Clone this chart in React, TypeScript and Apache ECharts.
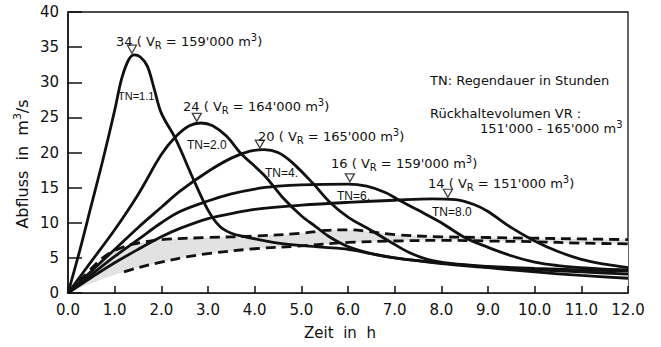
import React, { useEffect, useRef } from 'react';
import * as echarts from 'echarts';

// Hydrographs (t in h, Q in m3/s)
const tn11: number[][] = [[0,0],[0.25,6],[0.5,12.5],[0.75,19],[1.0,26],[1.15,30.5],[1.3,33.2],[1.42,33.9],[1.55,33.6],[1.7,32.3],[1.85,29],[2.0,25.6],[2.3,22],[2.7,16],[3.0,11.8],[3.25,9.5],[3.5,8.5],[3.8,8.0],[4.5,7.1],[5.5,6.5],[6.0,6.2],[6.5,5.6],[7.0,5.0],[8.0,4.2],[9.0,3.6],[10,3.0],[11,2.5],[12,2.1]];
const tn20: number[][] = [[0,0],[0.5,4.5],[1.0,9],[1.5,14],[2.0,19.7],[2.3,22.2],[2.6,23.8],[2.85,24.2],[3.1,23.8],[3.4,22.3],[3.7,19.9],[4.2,16.8],[4.6,13.6],[5.0,11.0],[5.3,9.5],[5.6,8.0],[6.0,6.6],[6.5,5.6],[7.0,5.0],[7.8,4.4],[9.0,3.7],[10,3.3],[11,3.0],[12,2.7]];
const tn40: number[][] = [[0,0],[0.5,3.1],[1.0,6.2],[1.5,9.3],[2.0,12.2],[2.4,14.5],[3.0,17.3],[3.5,19.2],[3.9,20.2],[4.2,20.4],[4.5,20.0],[4.8,18.6],[5.25,15.6],[5.6,13.0],[6.0,10.8],[6.5,8.9],[6.9,7.3],[7.3,5.8],[7.7,4.8],[8.2,4.2],[9.0,3.8],[10,3.5],[11,3.3],[12,3.1]];
const tn60: number[][] = [[0,0],[0.5,2.6],[1.0,5.2],[1.5,7.6],[2.0,10],[2.4,11.6],[3.0,13.1],[3.5,14.1],[4.0,14.8],[4.5,15.2],[5.0,15.4],[6.0,15.5],[6.4,15.2],[6.8,14.3],[7.1,13.2],[7.5,11.8],[8.0,10],[8.5,7.9],[9.0,6.5],[9.5,5.3],[10,4.4],[10.5,3.9],[11,3.6],[11.5,3.4],[12,3.3]];
const tn80: number[][] = [[0,0],[0.5,2.2],[1.0,4.3],[1.5,6.2],[2.0,8],[2.4,9.2],[3.0,10.6],[3.5,11.3],[4.0,11.9],[5.0,12.5],[6.0,12.9],[7.0,13.2],[7.8,13.4],[8.3,13.3],[8.7,12.6],[9.0,11.6],[9.5,9.3],[10,7.4],[10.5,5.9],[11,4.8],[11.5,4.1],[12,3.6]];

// Dashed envelope lines
const dashUpper: number[][] = [[0,0],[0.2,1.4],[0.4,2.8],[0.8,5.3],[1.2,6.6],[1.5,7.1],[2.0,7.6],[3.0,7.9],[4.0,8.1],[5.0,8.5],[5.5,8.9],[6.0,9.0],[6.4,8.8],[7.0,8.3],[8.0,8.0],[9.0,7.9],[10,7.8],[11,7.7],[12,7.6]];
const dashLower: number[][] = [[1.2,3.0],[1.5,3.6],[2.0,4.4],[2.5,5.1],[3.0,5.6],[4.0,6.3],[5.0,6.7],[6.0,7.2],[7.0,7.4],[8.0,7.5],[9,7.4],[10,7.3],[11,7.1],[12,7.0]];
const shadeLowerStart: number[][] = [[0,0],[0.5,1.4],[1.0,2.6]];

// Peak markers
const peakMarkers: number[][] = [[1.37,34.7],[2.76,25.0],[4.11,21.2],[6.04,16.4],[8.14,14.2]];
const peakValues: string[] = ['34', '24', '20', '16', '14'];
const peakVolumes: string[] = ["159'000", "164'000", "165'000", "159'000", "151'000"];
const tnLabels: string[] = ['TN=1.1', 'TN=2.0', 'TN=4.', 'TN=6.', 'TN=8.0'];

const FONT = 'DejaVu Sans';
const FONT_TN = 'Liberation Sans';

export default function App() {
  const ref = useRef<HTMLDivElement>(null);
  useEffect(() => {
    const chart = echarts.init(ref.current!, null, { renderer: 'svg' });
    const solid = (name: string, data: number[][]) => ({
      type: 'line', name, data, smooth: 0.35, showSymbol: false, z: 5,
      lineStyle: { color: '#111', width: 2.8 },
    });
    const rich = {
      n: { fontSize: 13, fontFamily: FONT, fill: '#111', lineHeight: 18 },
      s: { fontSize: 10, fontFamily: FONT, fill: '#111', lineHeight: 10, verticalAlign: 'bottom' },
      p: { fontSize: 10, fontFamily: FONT, fill: '#111', lineHeight: 10, verticalAlign: 'top' },
    };
    const peakPos = [[116, 41], [183, 106], [258, 136], [331, 163], [428, 183]];
    const tnPos = [[118, 96], [187, 145], [265, 173], [337, 196], [432, 212]];
    const tnSize = [11, 12, 12, 12, 12];
    const graphics: any[] = [];
    peakPos.forEach((p, i) => {
      graphics.push({
        type: 'text', x: p[0], y: p[1], z: 20,
        style: { text: `{n|${peakValues[i]} ( V}{s|R}{n| = ${peakVolumes[i]} m}{p|3}{n|)}`, rich, verticalAlign: 'middle', textAlign: 'left' },
      });
    });
    tnPos.forEach((p, i) => {
      graphics.push({
        type: 'text', x: p[0], y: p[1], z: 20,
        style: { text: tnLabels[i], fontSize: tnSize[i], fontFamily: FONT_TN, fill: '#111', verticalAlign: 'middle', textAlign: 'left' },
      });
    });
    graphics.push(
      { type: 'text', x: 430, y: 80, z: 20, style: { text: 'TN: Regendauer in Stunden', fontSize: 13, fontFamily: FONT, fill: '#111', verticalAlign: 'middle' } },
      { type: 'text', x: 430, y: 113, z: 20, style: { text: 'Rückhaltevolumen VR :', fontSize: 13, fontFamily: FONT, fill: '#111', verticalAlign: 'middle' } },
      { type: 'text', x: 480, y: 128, z: 20, style: { text: "{n|151'000 - 165'000 m}{p|3}", rich, verticalAlign: 'middle' } },
      { type: 'text', x: 340, y: 333, z: 20, style: { text: 'Zeit  in  h', fontSize: 15, fontFamily: FONT, fill: '#111', textAlign: 'center', verticalAlign: 'middle' } },
      {
        type: 'text', x: 22, y: 164, rotation: Math.PI / 2, z: 20,
        style: {
          text: '{a|Abfluss  in  m}{b|3}{a|/s}', textAlign: 'center', verticalAlign: 'middle',
          rich: {
            a: { fontSize: 16, fontFamily: FONT, fill: '#111', lineHeight: 20 },
            b: { fontSize: 11, fontFamily: FONT, fill: '#111', lineHeight: 11, verticalAlign: 'top' },
          },
        },
      },
    );

    chart.setOption({
      animation: false,
      backgroundColor: '#fff',
      grid: { left: 68, right: 33, top: 12, bottom: 54, show: true, borderColor: '#111', borderWidth: 1.3, backgroundColor: 'transparent' },
      xAxis: {
        type: 'value', min: 0, max: 12, interval: 1, z: 10,
        axisLine: { show: true, lineStyle: { color: '#111', width: 1.5 } },
        axisTick: { show: true, inside: true, length: 7, lineStyle: { color: '#111', width: 1.5 } },
        splitLine: { show: false },
        axisLabel: { color: '#111', fontSize: 15, fontFamily: FONT, margin: 9, formatter: (v: number) => v.toFixed(1) },
      },
      yAxis: {
        type: 'value', min: 0, max: 40, interval: 5, z: 10,
        axisLine: { show: true, lineStyle: { color: '#111', width: 1.5 } },
        axisTick: { show: true, inside: true, length: 14, lineStyle: { color: '#111', width: 1.5 } },
        splitLine: { show: false },
        axisLabel: { color: '#111', fontSize: 15, fontFamily: FONT, margin: 9 },
      },
      graphic: graphics,
      series: [
        { type: 'line', data: dashUpper, smooth: 0.35, showSymbol: false, z: 1, lineStyle: { width: 0 }, areaStyle: { color: '#e2e2e2', opacity: 1 }, silent: true },
        { type: 'line', data: [...shadeLowerStart, ...dashLower], smooth: 0.35, showSymbol: false, z: 2, lineStyle: { width: 0 }, areaStyle: { color: '#ffffff', opacity: 1 }, silent: true },
        { type: 'line', data: dashUpper, smooth: 0.35, showSymbol: false, z: 3, lineStyle: { color: '#111', width: 2.8, type: [10, 6] } },
        { type: 'line', data: dashLower, smooth: 0.35, showSymbol: false, z: 3, lineStyle: { color: '#111', width: 2.8, type: [10, 6] } },
        solid('TN=1.1', tn11),
        solid('TN=2.0', tn20),
        solid('TN=4', tn40),
        solid('TN=6', tn60),
        solid('TN=8.0', tn80),
        {
          type: 'scatter', data: peakMarkers, symbol: 'triangle', symbolRotate: 180, symbolSize: [9, 8], z: 8,
          itemStyle: { color: '#fff', borderColor: '#111', borderWidth: 1.3 },
        },
      ],
    });
    return () => chart.dispose();
  }, []);
  return <div ref={ref} style={{ position: 'fixed', left: 0, top: 0, width: 661, height: 347, background: '#fff' }} />;
}
